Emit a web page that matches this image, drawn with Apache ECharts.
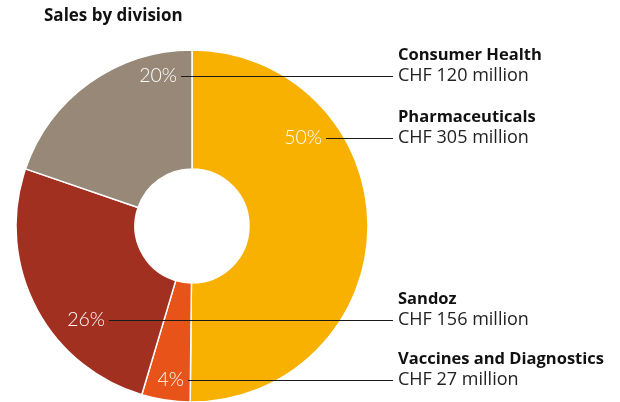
<!DOCTYPE html>
<html><head><meta charset="utf-8">
<script src="https://cdn.jsdelivr.net/npm/echarts@6/dist/echarts.min.js"></script>
<style>html,body{margin:0;padding:0;background:#fff}#c{width:620px;height:402px}</style>
</head><body><div id="c"></div>
<script>
var title = 'Sales by division';
var divisions = ['Pharmaceuticals', 'Vaccines and Diagnostics', 'Sandoz', 'Consumer Health'];
var sales = [305, 27, 156, 120];
var unitPrefix = 'CHF ';
var unitSuffix = ' million';

var colors = ['#F8B100', '#E8531A', '#A23020', '#978878'];
// layout (style only): leader-line y and right edge of percent label, per slice
var lineY = [138, 380, 320, 76];
var pctRight = [322, 184, 105, 177];
var textX = 398;
var FONT = 'Open Sans';

var chart = echarts.init(document.getElementById('c'), null, {renderer: 'canvas'});
var data = divisions.map(function (d, i) {
  return {name: d, value: sales[i], itemStyle: {color: colors[i]}};
});
var common = {
  type: 'pie', center: [192, 226], radius: [57, 176], startAngle: 90, clockwise: true,
  animation: false, silent: true, avoidLabelOverlap: false
};
chart.setOption({
  title: {text: title, left: 39, top: 3,
    textStyle: {fontFamily: FONT, fontWeight: 'bold', fontSize: 17, color: '#111'}},
  series: [
    Object.assign({}, common, {
      data: data,
      itemStyle: {borderColor: '#fff', borderWidth: 1.5},
      label: {show: true, position: 'inside', color: '#fff', fontFamily: 'Lato', fontWeight: 300, fontSize: 19.5,
        formatter: function (p) { return Math.round(p.percent) + '%'; }},
      labelLine: {show: false},
      labelLayout: function (p) {
        var i = p.dataIndex;
        return {x: pctRight[i], y: lineY[i], align: 'right', verticalAlign: 'middle'};
      }
    }),
    Object.assign({}, common, {
      data: data.map(function (d) { return {name: d.name, value: d.value, itemStyle: {color: 'rgba(0,0,0,0)'}}; }),
      z: 3,
      label: {show: true, position: 'outside', fontFamily: FONT, overflow: 'none', width: 240,
        formatter: function (p) { return '{b|' + p.name + '}\n{v|' + unitPrefix + p.value + unitSuffix + '}'; },
        rich: {
          b: {fontFamily: FONT, fontWeight: 'bold', fontSize: 16.5, color: '#111', lineHeight: 21},
          v: {fontFamily: FONT, fontSize: 18, color: '#222', lineHeight: 21}
        }},
      labelLine: {show: true, lineStyle: {color: '#1a1a1a', width: 1}},
      labelLayout: function (p) {
        var i = p.dataIndex;
        var y = lineY[i] + 0.5;
        return {x: textX, y: lineY[i] - 10.5, align: 'left', verticalAlign: 'middle', width: 240,
          labelLinePoints: [[pctRight[i] + 4, y], [pctRight[i] + 5, y], [textX - 5, y]]};
      }
    })
  ]
});
</script></body></html>
